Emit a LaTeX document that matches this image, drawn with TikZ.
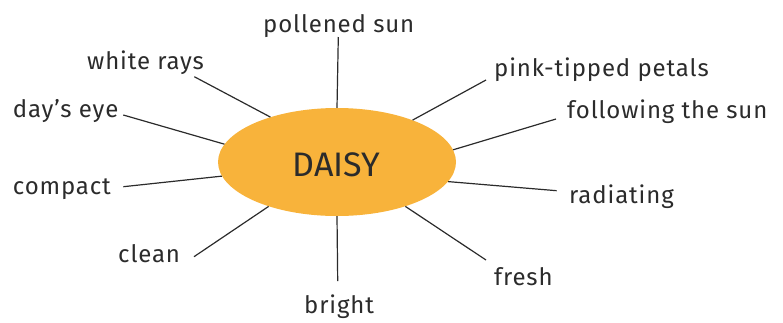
\documentclass[tikz,border=0pt]{standalone}
\usepackage{fontspec}
\setmainfont{Fira Sans}
\newfontfamily\lblfont[LetterSpace=3.6]{Fira Sans}
\usetikzlibrary{shapes.geometric}
\definecolor{daisyorange}{HTML}{F8B33B}
\definecolor{ink}{HTML}{2B2B2B}
\begin{document}
\begin{tikzpicture}[x=1pt,y=-1pt,
  lbl/.style={anchor=base west,inner sep=0pt,text=ink,font=\lblfont\fontsize{24}{28}\selectfont},
  ray/.style={draw=ink,line width=1.2pt}]
\useasboundingbox (0,0) rectangle (783,322);
\node[ellipse,fill=daisyorange,minimum width=238pt,minimum height=108pt,inner sep=0pt] (daisy) at (337,162) {};
\node[anchor=base,inner sep=0pt,text=ink,font=\fontsize{34}{38}\selectfont] (dtext) at (336.5,176.7) {DAISY};
\node[lbl] (l1) at (263,32) {pollened sun};
\node[lbl] (l2) at (87,69) {white rays};
\node[lbl] (l3) at (12.7,117) {day’s eye};
\node[lbl] (l4) at (12.7,194) {compact};
\node[lbl] (l5) at (118,262) {clean};
\node[lbl] (l6) at (304,313) {bright};
\node[lbl] (l7) at (494,285) {fresh};
\node[lbl] (l8) at (569,203) {radiating};
\node[lbl] (l9) at (567,118) {following the sun};
\node[lbl] (l10) at (494,76) {pink-tipped petals};
\coordinate (e1) at (338.3,37);
\coordinate (e2) at (194.3,76.7);
\coordinate (e3) at (123.3,115);
\coordinate (e4) at (123.3,186.7);
\coordinate (e5) at (194,256.7);
\coordinate (e6) at (337.7,281);
\coordinate (e7) at (486,260);
\coordinate (e8) at (556.7,190.7);
\coordinate (e9) at (556,119);
\coordinate (e10) at (486,80);
\draw[ray] (daisy.90) -- (e1);
\draw[ray] (daisy.146.3) -- (e2);
\draw[ray] (daisy.171.4) -- (e3);
\draw[ray] (daisy.187.3) -- (e4);
\draw[ray] (daisy.213) -- (e5);
\draw[ray] (daisy.270) -- (e6);
\draw[ray] (daisy.327.3) -- (e7);
\draw[ray] (daisy.350.9) -- (e8);
\draw[ray] (daisy.6.4) -- (e9);
\draw[ray] (daisy.29.3) -- (e10);
\end{tikzpicture}
\end{document}
